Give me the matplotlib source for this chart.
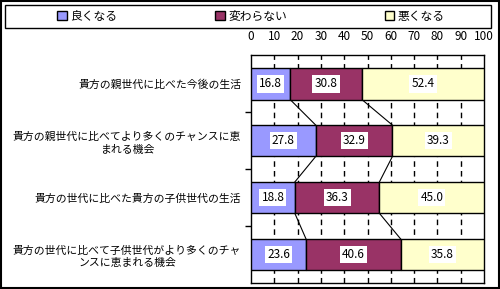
import matplotlib.pyplot as plt
from matplotlib.patches import Rectangle

plt.rcParams['font.family'] = ['Noto Sans CJK JP', 'DejaVu Sans']

# Data
categories = [
    '貴方の親世代に比べた今後の生活',
    '貴方の親世代に比べてより多くのチャンスに恵\nまれる機会',
    '貴方の世代に比べた貴方の子供世代の生活',
    '貴方の世代に比べて子供世代がより多くのチャ\nンスに恵まれる機会',
]
series_names = ['良くなる', '変わらない', '悪くなる']
better = [16.8, 27.8, 18.8, 23.6]
same = [30.8, 32.9, 36.3, 40.6]
worse = [52.4, 39.3, 45.0, 35.8]
colors = ['#9999FF', '#993366', '#FFFFCC']

fig = plt.figure(figsize=(5.0, 2.89), dpi=100)
ax = fig.add_axes([0.502, 0.021, 0.466, 0.787])

ypos = list(range(len(categories)))
h = 0.55
series = [better, same, worse]
lefts = [0.0] * len(categories)
handles = []
for name, vals, col in zip(series_names, series, colors):
    b = ax.barh(ypos, vals, left=lefts, height=h, color=col,
                edgecolor='black', linewidth=1, label=name, zorder=3)
    handles.append(b)
    for y, v, l in zip(ypos, vals, lefts):
        ax.text(l + v / 2, y, f'{v:.1f}', ha='center', va='center',
                fontsize=8.5, zorder=5,
                bbox=dict(facecolor='white', edgecolor='none', pad=1.5))
    lefts = [l + v for l, v in zip(lefts, vals)]

# series lines between bars
cum1 = better
cum2 = [a + b for a, b in zip(better, same)]
for i in range(len(categories) - 1):
    for c in (cum1, cum2):
        ax.plot([c[i], c[i + 1]], [i + h / 2, i + 1 - h / 2],
                color='black', linewidth=0.8, zorder=2)

ax.set_xlim(0, 100)
ax.set_ylim(3.5, -0.5)
ax.set_xticks(range(0, 101, 10))
ax.xaxis.tick_top()
ax.tick_params(axis='x', length=0, pad=9, labelsize=8.5)
ax.set_yticks(ypos)
ax.set_yticklabels(categories, ha='right', multialignment='center',
                   linespacing=1.35)
ax.tick_params(axis='y', which='major', length=0, pad=7, labelsize=7.8)
ax.set_yticks([0.5, 1.5, 2.5], minor=True)
ax.tick_params(axis='y', which='minor', length=4, width=1, direction='out')
for x in range(10, 100, 10):
    ax.axvline(x, color='black', linestyle=(0, (4, 3)), linewidth=1, zorder=1)
for s in ax.spines.values():
    s.set_linewidth(1)

# legend
fig.legend(handles=handles, labels=series_names, loc='center',
           bbox_to_anchor=(0.502, 0.943), ncol=3, frameon=False,
           fontsize=8.5, handlelength=0.8, handleheight=0.8,
           handletextpad=0.3, columnspacing=8.3)
fig.patches.append(Rectangle((5 / 500, 1 - 28 / 289), 486 / 500, 23 / 289,
                             transform=fig.transFigure, fill=False,
                             edgecolor='black', linewidth=1))
fig.patches.append(Rectangle((0.001, 0.002), 0.997, 0.996,
                             transform=fig.transFigure, fill=False,
                             edgecolor='black', linewidth=1.5))

fig.savefig('out.png', dpi=100)
